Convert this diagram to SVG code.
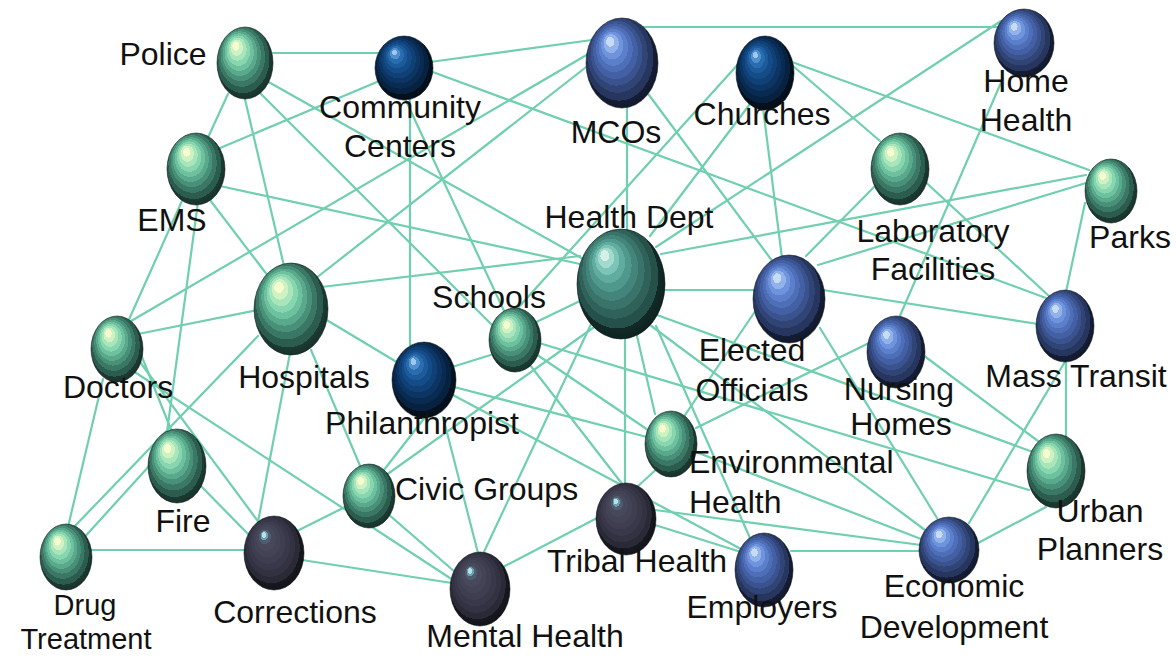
<svg xmlns="http://www.w3.org/2000/svg" width="1176" height="657" viewBox="0 0 1176 657">
<style>
.edge line{stroke:#6fcfae;stroke-width:2.2;stroke-linecap:round}
.n{stroke:#0a0f12;stroke-opacity:0.55;stroke-width:1}
.green{fill:url(#gGreen)}
.blue{fill:url(#gBlue)}
.navy{fill:url(#gNavy)}
.grey{fill:url(#gGrey)}
.teal{fill:url(#gTeal)}
text{font-family:"Liberation Sans",Arial,sans-serif;font-size:32px;fill:#111;text-anchor:middle}
.small{font-size:29px}
</style>
<defs>
<radialGradient id="gGreen" cx="0.5" cy="0.5" r="0.62" fx="0.32" fy="0.24">
<stop offset="0" stop-color="#f4fcd0"/><stop offset="0.1" stop-color="#f4fcd0"/>
<stop offset="0.1" stop-color="#cff2c2"/><stop offset="0.18" stop-color="#cff2c2"/>
<stop offset="0.18" stop-color="#a8e5ba"/><stop offset="0.26" stop-color="#a8e5ba"/>
<stop offset="0.26" stop-color="#88d6af"/><stop offset="0.34" stop-color="#88d6af"/>
<stop offset="0.34" stop-color="#6ec19e"/><stop offset="0.42" stop-color="#6ec19e"/>
<stop offset="0.42" stop-color="#5aa98c"/><stop offset="0.5" stop-color="#5aa98c"/>
<stop offset="0.5" stop-color="#499078"/><stop offset="0.58" stop-color="#499078"/>
<stop offset="0.58" stop-color="#3a7764"/><stop offset="0.67" stop-color="#3a7764"/>
<stop offset="0.67" stop-color="#2b5c4d"/><stop offset="0.77" stop-color="#2b5c4d"/>
<stop offset="0.77" stop-color="#1b3b32"/><stop offset="1" stop-color="#12261f"/>
</radialGradient>
<radialGradient id="gBlue" cx="0.5" cy="0.5" r="0.62" fx="0.32" fy="0.24">
<stop offset="0" stop-color="#c8dbf5"/><stop offset="0.09" stop-color="#c8dbf5"/>
<stop offset="0.09" stop-color="#92b2ea"/><stop offset="0.17" stop-color="#92b2ea"/>
<stop offset="0.17" stop-color="#6f93dc"/><stop offset="0.25" stop-color="#6f93dc"/>
<stop offset="0.25" stop-color="#5b7fcb"/><stop offset="0.33" stop-color="#5b7fcb"/>
<stop offset="0.33" stop-color="#4e6fb8"/><stop offset="0.41" stop-color="#4e6fb8"/>
<stop offset="0.41" stop-color="#4460a4"/><stop offset="0.5" stop-color="#4460a4"/>
<stop offset="0.5" stop-color="#3a528e"/><stop offset="0.58" stop-color="#3a528e"/>
<stop offset="0.58" stop-color="#314476"/><stop offset="0.67" stop-color="#314476"/>
<stop offset="0.67" stop-color="#26365e"/><stop offset="0.77" stop-color="#26365e"/>
<stop offset="0.77" stop-color="#151e36"/><stop offset="1" stop-color="#0c1122"/>
</radialGradient>
<radialGradient id="gNavy" cx="0.5" cy="0.5" r="0.62" fx="0.32" fy="0.24">
<stop offset="0" stop-color="#a0c8ea"/><stop offset="0.07" stop-color="#a0c8ea"/>
<stop offset="0.07" stop-color="#508ecd"/><stop offset="0.14" stop-color="#508ecd"/>
<stop offset="0.14" stop-color="#2a6cb0"/><stop offset="0.22" stop-color="#2a6cb0"/>
<stop offset="0.22" stop-color="#1c5a9c"/><stop offset="0.3" stop-color="#1c5a9c"/>
<stop offset="0.3" stop-color="#144c88"/><stop offset="0.39" stop-color="#144c88"/>
<stop offset="0.39" stop-color="#0f4076"/><stop offset="0.48" stop-color="#0f4076"/>
<stop offset="0.48" stop-color="#0c3564"/><stop offset="0.57" stop-color="#0c3564"/>
<stop offset="0.57" stop-color="#092b52"/><stop offset="0.66" stop-color="#092b52"/>
<stop offset="0.66" stop-color="#072240"/><stop offset="0.76" stop-color="#072240"/>
<stop offset="0.76" stop-color="#03111f"/><stop offset="1" stop-color="#020a14"/>
</radialGradient>
<radialGradient id="gGrey" cx="0.5" cy="0.5" r="0.62" fx="0.32" fy="0.24">
<stop offset="0" stop-color="#b4e2ec"/><stop offset="0.06" stop-color="#b4e2ec"/>
<stop offset="0.06" stop-color="#6f9eae"/><stop offset="0.1" stop-color="#6f9eae"/>
<stop offset="0.1" stop-color="#505c6e"/><stop offset="0.16" stop-color="#505c6e"/>
<stop offset="0.16" stop-color="#48485c"/><stop offset="0.26" stop-color="#48485c"/>
<stop offset="0.26" stop-color="#434356"/><stop offset="0.36" stop-color="#434356"/>
<stop offset="0.36" stop-color="#3e3e50"/><stop offset="0.46" stop-color="#3e3e50"/>
<stop offset="0.46" stop-color="#38384a"/><stop offset="0.56" stop-color="#38384a"/>
<stop offset="0.56" stop-color="#323242"/><stop offset="0.66" stop-color="#323242"/>
<stop offset="0.66" stop-color="#2a2a37"/><stop offset="0.76" stop-color="#2a2a37"/>
<stop offset="0.76" stop-color="#17171f"/><stop offset="1" stop-color="#0e0e14"/>
</radialGradient>
<radialGradient id="gTeal" cx="0.5" cy="0.5" r="0.62" fx="0.3" fy="0.22">
<stop offset="0" stop-color="#d4f0e8"/><stop offset="0.08" stop-color="#d4f0e8"/>
<stop offset="0.08" stop-color="#a2dacd"/><stop offset="0.15" stop-color="#a2dacd"/>
<stop offset="0.15" stop-color="#7bc4b6"/><stop offset="0.22" stop-color="#7bc4b6"/>
<stop offset="0.22" stop-color="#60ad9f"/><stop offset="0.3" stop-color="#60ad9f"/>
<stop offset="0.3" stop-color="#50988c"/><stop offset="0.39" stop-color="#50988c"/>
<stop offset="0.39" stop-color="#43857a"/><stop offset="0.48" stop-color="#43857a"/>
<stop offset="0.48" stop-color="#39736a"/><stop offset="0.57" stop-color="#39736a"/>
<stop offset="0.57" stop-color="#30625a"/><stop offset="0.66" stop-color="#30625a"/>
<stop offset="0.66" stop-color="#26504a"/><stop offset="0.76" stop-color="#26504a"/>
<stop offset="0.76" stop-color="#122a27"/><stop offset="1" stop-color="#0a1a18"/>
</radialGradient>
</defs>
<rect width="1176" height="657" fill="#ffffff"/>
<g id="connectors" class="edge">
<line x1="273" y1="53" x2="378" y2="53"/>
<line x1="228" y1="94" x2="205" y2="144"/>
<line x1="244" y1="95" x2="284" y2="266"/>
<line x1="255" y1="88" x2="494" y2="327"/>
<line x1="265" y1="80" x2="585" y2="260"/>
<line x1="384" y1="79" x2="220" y2="148"/>
<line x1="430" y1="62" x2="592" y2="40"/>
<line x1="430" y1="71" x2="1046" y2="298"/>
<line x1="410" y1="96" x2="410" y2="345"/>
<line x1="400" y1="88" x2="505" y2="313"/>
<line x1="220" y1="186" x2="580" y2="264"/>
<line x1="210" y1="200" x2="268" y2="276"/>
<line x1="186" y1="192" x2="127" y2="324"/>
<line x1="198" y1="202" x2="167" y2="432"/>
<line x1="126" y1="324" x2="590" y2="53"/>
<line x1="138" y1="334" x2="258" y2="310"/>
<line x1="311" y1="282" x2="590" y2="64"/>
<line x1="313" y1="288" x2="580" y2="256"/>
<line x1="320" y1="316" x2="400" y2="364"/>
<line x1="258" y1="336" x2="72" y2="529"/>
<line x1="290" y1="353" x2="258" y2="522"/>
<line x1="311" y1="350" x2="361" y2="468"/>
<line x1="103" y1="379" x2="68" y2="527"/>
<line x1="136" y1="342" x2="172" y2="432"/>
<line x1="137" y1="358" x2="260" y2="524"/>
<line x1="127" y1="367" x2="453" y2="580"/>
<line x1="81" y1="541" x2="151" y2="464"/>
<line x1="90" y1="550" x2="246" y2="550"/>
<line x1="196" y1="481" x2="250" y2="536"/>
<line x1="293" y1="533" x2="347" y2="506"/>
<line x1="302" y1="560" x2="452" y2="583"/>
<line x1="380" y1="475" x2="426" y2="416"/>
<line x1="382" y1="478" x2="597" y2="325"/>
<line x1="380" y1="507" x2="455" y2="572"/>
<line x1="452" y1="367" x2="497" y2="353"/>
<line x1="454" y1="387" x2="647" y2="437"/>
<line x1="453" y1="395" x2="741" y2="549"/>
<line x1="443" y1="417" x2="478" y2="553"/>
<line x1="530" y1="325" x2="582" y2="300"/>
<line x1="518" y1="308" x2="740" y2="62"/>
<line x1="530" y1="365" x2="623" y2="485"/>
<line x1="539" y1="343" x2="1029" y2="490"/>
<line x1="533" y1="352" x2="648" y2="430"/>
<line x1="627" y1="106" x2="627" y2="231"/>
<line x1="649" y1="95" x2="773" y2="262"/>
<line x1="643" y1="27" x2="998" y2="27"/>
<line x1="763" y1="108" x2="782" y2="258"/>
<line x1="793" y1="66" x2="880" y2="141"/>
<line x1="792" y1="62" x2="1089" y2="170"/>
<line x1="650" y1="236" x2="750" y2="104"/>
<line x1="1001" y1="21" x2="656" y2="247"/>
<line x1="1003" y1="78" x2="899" y2="318"/>
<line x1="920" y1="177" x2="1050" y2="297"/>
<line x1="876" y1="185" x2="806" y2="256"/>
<line x1="1086" y1="175" x2="661" y2="254"/>
<line x1="1086" y1="183" x2="818" y2="265"/>
<line x1="1085" y1="203" x2="1066" y2="292"/>
<line x1="664" y1="290" x2="755" y2="290"/>
<line x1="657" y1="315" x2="1033" y2="452"/>
<line x1="650" y1="325" x2="925" y2="530"/>
<line x1="637" y1="336" x2="655" y2="414"/>
<line x1="656" y1="326" x2="750" y2="538"/>
<line x1="625" y1="338" x2="625" y2="485"/>
<line x1="592" y1="322" x2="483" y2="554"/>
<line x1="823" y1="290" x2="1038" y2="324"/>
<line x1="820" y1="328" x2="937" y2="518"/>
<line x1="683" y1="418" x2="756" y2="310"/>
<line x1="869" y1="343" x2="696" y2="428"/>
<line x1="919" y1="352" x2="1042" y2="444"/>
<line x1="1066" y1="360" x2="969" y2="523"/>
<line x1="1066" y1="360" x2="1066" y2="440"/>
<line x1="1046" y1="507" x2="978" y2="543"/>
<line x1="791" y1="551" x2="921" y2="551"/>
<line x1="696" y1="452" x2="921" y2="539"/>
<line x1="660" y1="466" x2="637" y2="487"/>
<line x1="655" y1="510" x2="921" y2="545"/>
<line x1="655" y1="525" x2="741" y2="552"/>
<line x1="599" y1="517" x2="503" y2="567"/>
</g>
<g id="police"><ellipse class="n green" cx="245" cy="63" rx="28" ry="36"/><text x="163" y="65">Police</text></g>
<g id="community-centers"><ellipse class="n navy" cx="404" cy="68" rx="29" ry="32"/><text x="400" y="118">Community</text><text x="400" y="157">Centers</text></g>
<g id="mcos"><ellipse class="n blue" cx="622" cy="63" rx="36" ry="45"/><text x="616" y="143">MCOs</text></g>
<g id="churches"><ellipse class="n navy" cx="765" cy="73" rx="29" ry="37"/><text x="762" y="125">Churches</text></g>
<g id="home-health"><ellipse class="n blue" cx="1024" cy="43" rx="30" ry="34"/><text x="1026" y="92">Home</text><text x="1026" y="131">Health</text></g>
<g id="ems"><ellipse class="n green" cx="196" cy="169" rx="29" ry="36"/><text x="172" y="231">EMS</text></g>
<g id="laboratory-facilities"><ellipse class="n green" cx="900" cy="169" rx="29" ry="36"/><text x="933" y="242">Laboratory</text><text x="933" y="280">Facilities</text></g>
<g id="parks"><ellipse class="n green" cx="1111" cy="191" rx="26" ry="32"/><text x="1130" y="248">Parks</text></g>
<g id="health-dept"><ellipse class="n teal" cx="621" cy="284" rx="44" ry="55"/><text x="629" y="228">Health Dept</text></g>
<g id="schools"><ellipse class="n green" cx="515" cy="340" rx="26" ry="32"/><text x="489" y="308">Schools</text></g>
<g id="hospitals"><ellipse class="n green" cx="291" cy="309" rx="37" ry="46"/><text x="304" y="388">Hospitals</text></g>
<g id="doctors"><ellipse class="n green" cx="117" cy="349" rx="26" ry="33"/><text x="118" y="398">Doctors</text></g>
<g id="elected-officials"><ellipse class="n blue" cx="789" cy="299" rx="36" ry="44"/><text x="752" y="361">Elected</text><text x="752" y="401">Officials</text></g>
<g id="mass-transit"><ellipse class="n blue" cx="1065" cy="326" rx="29" ry="36"/><text x="1076" y="387">Mass Transit</text></g>
<g id="nursing-homes"><ellipse class="n blue" cx="896" cy="352" rx="29" ry="36"/><text x="899" y="400">Nursing</text><text x="901" y="435">Homes</text></g>
<g id="philanthropist"><ellipse class="n navy" cx="424" cy="380" rx="32" ry="38"/><text x="422" y="434">Philanthropist</text></g>
<g id="fire"><ellipse class="n green" cx="177" cy="466" rx="29" ry="37"/><text x="183" y="532">Fire</text></g>
<g id="environmental-health"><ellipse class="n green" cx="671" cy="444" rx="26" ry="33"/><text x="689" y="473" style="text-anchor:start">Environmental</text><text x="689" y="513" style="text-anchor:start">Health</text></g>
<g id="civic-groups"><ellipse class="n green" cx="369" cy="496" rx="26" ry="32"/><text x="395" y="500" style="text-anchor:start">Civic Groups</text></g>
<g id="tribal-health"><ellipse class="n grey" cx="626" cy="519" rx="30" ry="36"/><text x="637" y="572">Tribal Health</text></g>
<g id="drug-treatment"><ellipse class="n green" cx="66" cy="557" rx="26" ry="33"/><text class="small" x="85" y="615">Drug</text><text class="small" x="86" y="649">Treatment</text></g>
<g id="corrections"><ellipse class="n grey" cx="274" cy="553" rx="30" ry="37"/><text x="295" y="623">Corrections</text></g>
<g id="mental-health"><ellipse class="n grey" cx="480" cy="589" rx="30" ry="37"/><text x="525" y="647">Mental Health</text></g>
<g id="employers"><ellipse class="n blue" cx="764" cy="570" rx="29" ry="37"/><text x="762" y="618">Employers</text></g>
<g id="urban-planners"><ellipse class="n green" cx="1056" cy="471" rx="29" ry="37"/><text x="1100" y="522">Urban</text><text x="1100" y="560">Planners</text></g>
<g id="economic-development"><ellipse class="n blue" cx="949" cy="550" rx="30" ry="33"/><text x="954" y="597">Economic</text><text x="954" y="638">Development</text></g>
</svg>
